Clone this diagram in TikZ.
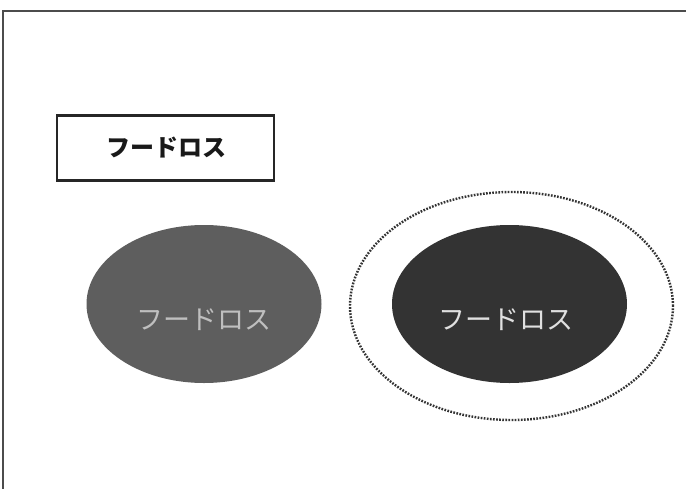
\documentclass[tikz,border=0pt]{standalone}
\usepackage{fontspec}
\newfontfamily\cjk{Noto Sans CJK JP}
\usetikzlibrary{shapes.geometric}
\begin{document}
\begin{tikzpicture}[x=1pt,y=-1pt,
  frameline/.style={draw=black!70,line width=2pt},
  labelbox/.style={draw=black!85,line width=2.4pt,minimum width=217pt,minimum height=65pt,inner sep=0pt},
  blob/.style={ellipse,minimum width=235pt,minimum height=158pt,inner sep=0pt},
  ring/.style={ellipse,draw=black!80,line width=2.4pt,dash pattern=on 1.7pt off 1.4pt,minimum width=323pt,minimum height=228pt,inner sep=0pt},
  ovaltext/.style={font=\cjk\fontsize{27}{27}\selectfont}]
\useasboundingbox (0,0) rectangle (686,488);
\fill[white] (0,0) rectangle (686,488);
\coordinate (tl) at (3,11);
\coordinate (tr) at (687,11);
\coordinate (bl) at (3,489);
\draw[frameline] (bl) -- (tl) -- (tr);
\node[labelbox] (box) at (165.5,148) {};
\node[font=\cjk\bfseries\fontsize{24}{24}\selectfont,text=black!90] (boxtext) at (166,148) {フードロス};
\node[blob,fill=black!63] (left) at (204,304) {};
\node[ovaltext,text=black!25] (lefttext) at (204,320) {フードロス};
\node[ring] (ring) at (511.5,306) {};
\node[blob,fill=black!80] (right) at (509.5,304) {};
\node[ovaltext,text=black!12] (righttext) at (506,320) {フードロス};
\end{tikzpicture}
\end{document}
